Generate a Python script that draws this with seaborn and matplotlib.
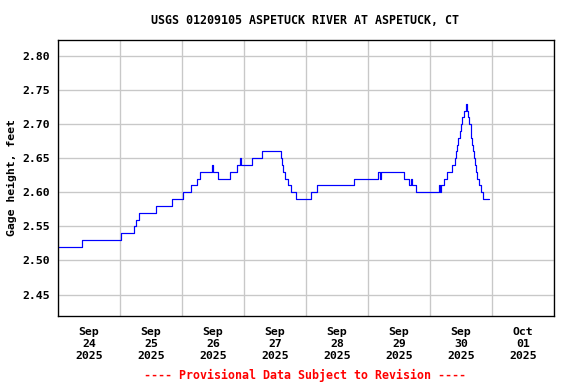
# USGS style gage height plot, Aspetuck River
import pandas as pd
import matplotlib
matplotlib.use("Agg")
import matplotlib.pyplot as plt
import seaborn as sns

# step changes in gage height (time the new value starts, value in feet)
times = [
    "2025-09-24 00:00", "2025-09-24 09:15", "2025-09-25 00:15", "2025-09-25 05:30",
    "2025-09-25 06:15", "2025-09-25 07:15", "2025-09-25 14:00", "2025-09-25 20:15",
    "2025-09-26 00:15", "2025-09-26 03:30", "2025-09-26 05:45", "2025-09-26 07:00",
    "2025-09-26 11:30", "2025-09-26 12:00", "2025-09-26 14:00", "2025-09-26 18:45",
    "2025-09-26 21:15", "2025-09-26 22:30", "2025-09-26 23:00", "2025-09-27 03:00",
    "2025-09-27 07:00", "2025-09-27 14:15", "2025-09-27 14:45", "2025-09-27 15:15",
    "2025-09-27 16:00", "2025-09-27 17:00", "2025-09-27 18:15", "2025-09-27 20:00",
    "2025-09-28 02:00", "2025-09-28 04:15", "2025-09-28 18:30", "2025-09-29 04:00",
    "2025-09-29 04:30", "2025-09-29 05:00", "2025-09-29 14:00", "2025-09-29 16:00",
    "2025-09-29 16:30", "2025-09-29 17:00", "2025-09-29 18:30", "2025-09-30 03:30",
    "2025-09-30 04:00", "2025-09-30 04:15", "2025-09-30 05:30", "2025-09-30 06:45",
    "2025-09-30 08:30", "2025-09-30 09:30", "2025-09-30 10:00", "2025-09-30 10:30",
    "2025-09-30 11:00", "2025-09-30 11:30", "2025-09-30 12:00", "2025-09-30 12:30",
    "2025-09-30 13:00", "2025-09-30 13:45", "2025-09-30 14:30", "2025-09-30 14:45",
    "2025-09-30 15:15", "2025-09-30 15:45", "2025-09-30 16:00", "2025-09-30 16:15",
    "2025-09-30 16:30", "2025-09-30 17:00", "2025-09-30 17:15", "2025-09-30 17:45",
    "2025-09-30 18:15", "2025-09-30 19:00", "2025-09-30 19:45", "2025-09-30 20:30",
    "2025-09-30 22:45",
]
heights = [
    2.52, 2.53, 2.54, 2.55,
    2.56, 2.57, 2.58, 2.59,
    2.60, 2.61, 2.62, 2.63,
    2.64, 2.63, 2.62, 2.63,
    2.64, 2.65, 2.64, 2.65,
    2.66, 2.65, 2.64, 2.63,
    2.62, 2.61, 2.60, 2.59,
    2.60, 2.61, 2.62, 2.63,
    2.62, 2.63, 2.62, 2.61,
    2.62, 2.61, 2.60, 2.61,
    2.60, 2.61, 2.62, 2.63,
    2.64, 2.65, 2.66, 2.67,
    2.68, 2.69, 2.70, 2.71,
    2.72, 2.73, 2.72, 2.71,
    2.70, 2.69, 2.68, 2.67,
    2.66, 2.65, 2.64, 2.63,
    2.62, 2.61, 2.60, 2.59,
    2.59,
]

yticks = [2.45, 2.50, 2.55, 2.60, 2.65, 2.70, 2.75, 2.80]
day_labels = ["Sep\n24\n2025", "Sep\n25\n2025", "Sep\n26\n2025", "Sep\n27\n2025",
              "Sep\n28\n2025", "Sep\n29\n2025", "Sep\n30\n2025", "Oct\n01\n2025"]

title = "USGS 01209105 ASPETUCK RIVER AT ASPETUCK, CT"
ylabel = "Gage height, feet"
footnote = "---- Provisional Data Subject to Revision ----"

df = pd.DataFrame({"time": pd.to_datetime(times), "height": heights})

sns.set_style("white")
plt.rcParams["font.family"] = ["DejaVu Sans Mono"]
plt.rcParams["font.weight"] = "bold"
plt.rcParams["text.color"] = "black"
plt.rcParams["axes.labelcolor"] = "black"
plt.rcParams["xtick.color"] = "black"
plt.rcParams["ytick.color"] = "black"

fig = plt.figure(figsize=(6, 4), dpi=96)
ax = fig.add_axes([58 / 576, 1 - 316 / 384, 496 / 576, 276 / 384])

sns.lineplot(data=df, x="time", y="height", ax=ax, color="#0000ff",
             linewidth=0.9, drawstyle="steps-post", estimator=None, sort=False)

start = pd.Timestamp("2025-09-24 00:00")
end = pd.Timestamp("2025-10-02 00:00")
ax.set_xlim(start, end)
ax.set_ylim(2.4185, 2.8235)

midnights = pd.date_range(start, end, freq="D")
noons = pd.date_range(start + pd.Timedelta(hours=12), periods=8, freq="D")
ax.set_xticks(midnights)
ax.set_xticklabels([])
ax.set_xticks(noons, minor=True)
ax.set_xticklabels(day_labels, minor=True, fontsize=8.6, fontweight="bold",
                   linespacing=1.25, color="black")
ax.tick_params(axis="x", which="both", length=0, pad=8)

ax.set_yticks(yticks)
ax.set_yticklabels([f"{v:.2f}" for v in yticks], fontsize=8.6,
                   fontweight="bold", color="black")
ax.tick_params(axis="y", length=0, pad=6)

ax.grid(True, which="major", color="#c8c8c8", linewidth=1.0)
ax.set_axisbelow(True)
for s in ax.spines.values():
    s.set_color("black")
    s.set_linewidth(1.0)

ax.set_xlabel("")
ax.set_ylabel(ylabel, fontsize=8.6, fontweight="bold", labelpad=4, color="black")

fig.text(305 / 576, 1 - 20 / 384, title, ha="center", va="center",
         fontsize=8.7, fontweight="bold", color="black")
fig.text(305 / 576, 1 - 375 / 384, footnote, ha="center", va="center",
         fontsize=8.7, fontweight="bold", color="#ff0000")

fig.savefig("out.png", dpi=96)
